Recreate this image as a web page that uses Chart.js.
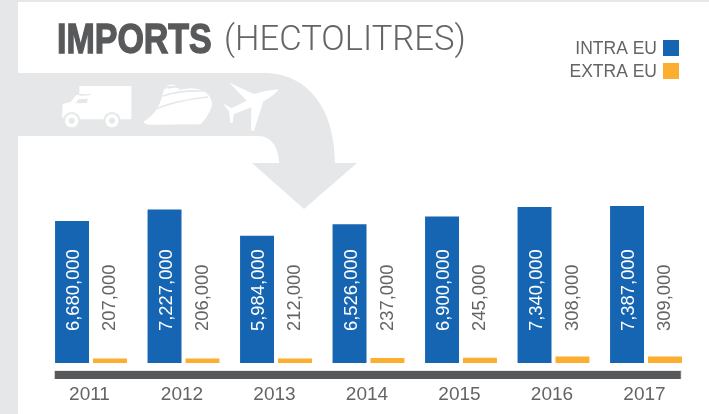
<!DOCTYPE html>
<html>
<head>
<meta charset="utf-8">
<style>
html, body { margin: 0; padding: 0; background: #fff; }
canvas { display: block; }
</style>
<script src="https://cdn.jsdelivr.net/npm/chart.js@4"></script>
</head>
<body>
<canvas id="imports" width="709" height="414"></canvas>
<script>
const years = ['2011', '2012', '2013', '2014', '2015', '2016', '2017'];
const intraEu = [6680000, 7227000, 5984000, 6526000, 6900000, 7340000, 7387000];
const extraEu = [207000, 206000, 212000, 237000, 245000, 308000, 309000];
const seriesNames = ['INTRA EU', 'EXTRA EU'];

const BLUE = '#1565b2';
const ORANGE = '#fbae30';
const PALE = '#e6e7e8';
const DARK = '#58595b';
const TEXT = '#636466';
const FONT = '"Liberation Sans", Arial, sans-serif';

// zoomed icon sketch: coordinates from a 3x crop that starts at 50,70
function iconPath(ctx, fn) {
    ctx.save();
    ctx.translate(50, 70);
    ctx.scale(1 / 3, 1 / 3);
    ctx.beginPath();
    fn(ctx);
    ctx.fill();
    ctx.restore();
}

function drawBackdrop(ctx) {
    ctx.fillStyle = PALE;
    ctx.fillRect(0, 0, 709, 2);
    ctx.fillRect(0, 0, 18, 414);

    ctx.beginPath();
    ctx.moveTo(18, 73);
    ctx.lineTo(264, 73);
    ctx.bezierCurveTo(310, 73, 335, 112, 335, 163);
    ctx.lineTo(357, 163);
    ctx.lineTo(304, 209);
    ctx.lineTo(252, 163);
    ctx.lineTo(279, 163);
    ctx.bezierCurveTo(279, 147, 271, 136, 258, 136);
    ctx.lineTo(18, 136);
    ctx.closePath();
    ctx.fill();

    // truck
    ctx.fillStyle = '#fff';
    iconPath(ctx, c => {
        c.moveTo(88, 48); c.lineTo(244, 48); c.lineTo(244, 148); c.lineTo(45, 148);
        c.lineTo(36, 142); c.lineTo(38, 102); c.lineTo(62, 96);
        c.lineTo(78, 76); c.lineTo(88, 74);
        c.closePath();
    });
    ctx.fillStyle = PALE;
    iconPath(ctx, c => { c.moveTo(86, 87); c.lineTo(114, 86); c.lineTo(110, 99); c.lineTo(78, 100); c.closePath(); });
    iconPath(ctx, c => { c.moveTo(88, 72); c.lineTo(122, 72); c.lineTo(122, 76); c.lineTo(88, 77); c.closePath(); });
    [65, 186].forEach(x => {
        ctx.fillStyle = PALE;
        iconPath(ctx, c => c.arc(x, 152, 26, 0, Math.PI * 2));
        ctx.fillStyle = '#fff';
        iconPath(ctx, c => c.arc(x, 152, 20, 0, Math.PI * 2));
        ctx.fillStyle = PALE;
        iconPath(ctx, c => c.arc(x, 152, 9, 0, Math.PI * 2));
    });

    // ship
    ctx.fillStyle = '#fff';
    iconPath(ctx, c => {
        c.moveTo(280, 155);
        c.quadraticCurveTo(325, 130, 338, 72);
        c.quadraticCurveTo(345, 40, 372, 44);
        c.quadraticCurveTo(385, 50, 388, 60);
        c.quadraticCurveTo(430, 48, 462, 62);
        c.quadraticCurveTo(490, 85, 486, 108);
        c.quadraticCurveTo(475, 140, 452, 163);
        c.lineTo(300, 164);
        c.quadraticCurveTo(283, 163, 280, 155);
        c.closePath();
    });
    ctx.strokeStyle = PALE;
    ctx.lineWidth = 1.6;
    ctx.beginPath();
    ctx.moveTo(148, 112);
    ctx.quadraticCurveTo(175, 100, 208, 97);
    ctx.moveTo(163, 96);
    ctx.quadraticCurveTo(180, 90, 205, 91);
    ctx.moveTo(168, 88);
    ctx.quadraticCurveTo(185, 84, 202, 86);
    ctx.moveTo(165, 88);
    ctx.quadraticCurveTo(172, 86, 178, 87);
    ctx.stroke();

    // plane
    ctx.fillStyle = '#fff';
    iconPath(ctx, c => {
        c.moveTo(686, 58);
        c.quadraticCurveTo(675, 76, 640, 94);
        c.lineTo(612, 183);
        c.lineTo(603, 181);
        c.lineTo(604, 112);
        c.lineTo(552, 132);
        c.lineTo(547, 160);
        c.lineTo(541, 158);
        c.lineTo(537, 124);
        c.lineTo(519, 100);
        c.lineTo(544, 115);
        c.lineTo(590, 92);
        c.lineTo(538, 38);
        c.lineTo(612, 72);
        c.quadraticCurveTo(650, 60, 686, 58);
        c.closePath();
    });
}

function drawHeading(ctx) {
    ctx.textBaseline = 'alphabetic';
    ctx.textAlign = 'left';

    ctx.save();
    ctx.translate(57, 53);
    ctx.scale(0.79, 1);
    ctx.font = 'bold 43px ' + FONT;
    ctx.fillStyle = DARK;
    ctx.strokeStyle = DARK;
    ctx.lineWidth = 1.4;
    ctx.fillText('IMPORTS', 0, 0);
    ctx.strokeText('IMPORTS', 0, 0);
    ctx.restore();

    ctx.font = '300 34.6px Roboto, ' + FONT;
    ctx.fillStyle = TEXT;
    ctx.fillText('(HECTOLITRES)', 224, 50);
}

function drawKey(ctx, chart) {
    ctx.font = '17.5px ' + FONT;
    ctx.textAlign = 'right';
    ctx.textBaseline = 'middle';
    chart.data.datasets.forEach((ds, i) => {
        const y = 40 + i * 23;
        ctx.fillStyle = ds.backgroundColor;
        ctx.fillRect(663, y, 16, 16);
        ctx.fillStyle = TEXT;
        ctx.fillText(ds.label, 657, y + 9);
    });
}

const imagePlugin = {
    id: 'imagePlugin',
    beforeDraw(chart) {
        const ctx = chart.ctx;
        ctx.save();
        drawBackdrop(ctx);
        drawHeading(ctx);
        drawKey(ctx, chart);
        // heavy rule under the bars
        const area = chart.chartArea;
        ctx.fillStyle = PALE;
        ctx.fillRect(area.left + 10, area.bottom + 7, 627, 9);
        ctx.fillStyle = DARK;
        ctx.fillRect(area.left + 10, area.bottom + 8, 626, 8);
        ctx.restore();
    },
    afterDatasetsDraw(chart) {
        const ctx = chart.ctx;
        ctx.save();
        ctx.font = '18.4px ' + FONT;
        ctx.textAlign = 'left';
        ctx.textBaseline = 'middle';
        chart.data.datasets.forEach((ds, i) => {
            chart.getDatasetMeta(i).data.forEach((bar, j) => {
                ctx.save();
                ctx.translate(bar.x + (i === 0 ? 2 : 0), chart.chartArea.bottom - 32);
                ctx.rotate(-Math.PI / 2);
                ctx.fillStyle = i === 0 ? '#fff' : TEXT;
                ctx.fillText(ds.data[j].toLocaleString('en-US'), 0, 0);
                ctx.restore();
            });
        });
        ctx.restore();
    }
};

new Chart(document.getElementById('imports'), {
    type: 'bar',
    data: {
        labels: years,
        datasets: [
            { label: seriesNames[0], data: intraEu, backgroundColor: BLUE },
            { label: seriesNames[1], data: extraEu, backgroundColor: ORANGE }
        ]
    },
    plugins: [imagePlugin],
    options: {
        responsive: false,
        animation: false,
        categoryPercentage: 0.82,
        barPercentage: 0.895,
        layout: { padding: { left: 44.75, right: 16.75, top: 193, bottom: 0 } },
        plugins: { legend: { display: false }, title: { display: false }, tooltip: { enabled: false } },
        scales: {
            x: {
                grid: { display: false },
                border: { display: false },
                afterFit: axis => { axis.height = 51; },
                ticks: {
                    color: TEXT,
                    padding: 12,
                    labelOffset: -1.5,
                    maxRotation: 0,
                    font: { family: FONT, size: 19 }
                }
            },
            y: { display: false, min: 0, max: 8000000 }
        }
    }
});
</script>
</body>
</html>
